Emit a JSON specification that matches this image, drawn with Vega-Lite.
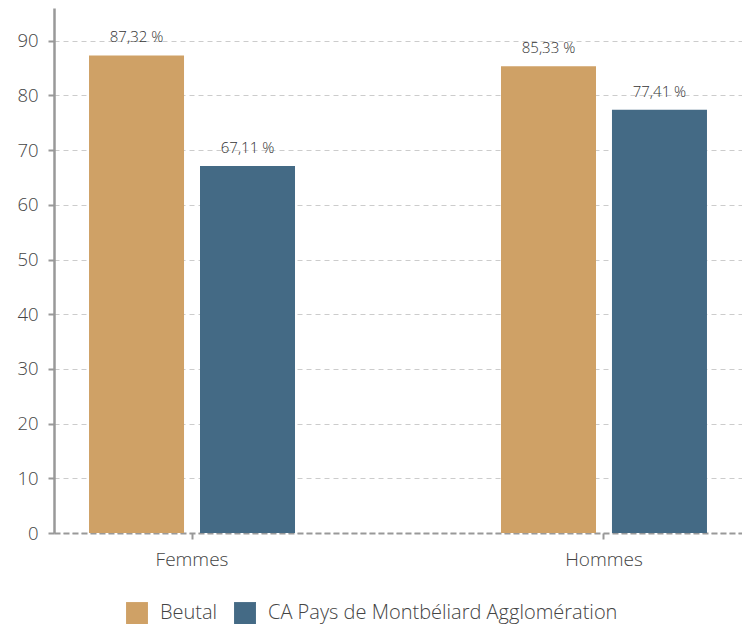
{
  "$schema": "https://vega.github.io/schema/vega-lite/v6.json",
  "width": 688,
  "height": 525,
  "autosize": {"type": "none"},
  "padding": {"left": 54, "top": 8, "right": 0, "bottom": 96},
  "background": "white",
  "data": {
    "values": [
      {"sexe": "Femmes", "territoire": "Beutal", "valeur": 87.32, "label": "87,32 %"},
      {"sexe": "Femmes", "territoire": "CA Pays de Montbéliard Agglomération", "valeur": 67.11, "label": "67,11 %"},
      {"sexe": "Hommes", "territoire": "Beutal", "valeur": 85.33, "label": "85,33 %"},
      {"sexe": "Hommes", "territoire": "CA Pays de Montbéliard Agglomération", "valeur": 77.41, "label": "77,41 %"}
    ]
  },
  "encoding": {
    "x": {
      "field": "sexe",
      "type": "nominal",
      "scale": {"paddingInner": 0.5, "paddingOuter": 0.085},
      "axis": {
        "title": null,
        "labelAngle": 0,
        "labelFont": "Open Sans",
        "labelFontWeight": 300,
        "labelFontSize": 19,
        "labelColor": "#444444",
        "labelPadding": 11,
        "tickColor": "#999999",
        "tickSize": 6,
        "tickWidth": 2,
        "domainColor": "#999999",
        "domainWidth": 2,
        "domainDash": [6, 3],
        "grid": false
      }
    },
    "xOffset": {
      "field": "territoire",
      "type": "nominal",
      "scale": {"paddingInner": 0.144, "paddingOuter": 0}
    },
    "y": {
      "field": "valeur",
      "type": "quantitative",
      "scale": {"domain": [0, 96], "nice": false},
      "axis": {
        "title": null,
        "values": [0, 10, 20, 30, 40, 50, 60, 70, 80, 90],
        "labelFont": "Open Sans",
        "labelFontWeight": 300,
        "labelFontSize": 18.5,
        "labelColor": "#444444",
        "labelPadding": 10,
        "tickColor": "#999999",
        "tickSize": 6,
        "tickWidth": 2,
        "domainColor": "#999999",
        "domainWidth": 2.5,
        "gridColor": "#cccccc",
        "gridDash": [5, 4],
        "gridWidth": 1
      }
    }
  },
  "layer": [
    {
      "mark": {"type": "bar"},
      "encoding": {
        "color": {
          "field": "territoire",
          "type": "nominal",
          "scale": {
            "domain": ["Beutal", "CA Pays de Montbéliard Agglomération"],
            "range": ["#CFA166", "#446A85"]
          },
          "legend": {
            "title": null,
            "orient": "none",
            "direction": "horizontal",
            "legendX": 72,
            "legendY": 594,
            "symbolType": "square",
            "symbolSize": 480,
            "symbolStrokeWidth": 0,
            "labelFont": "Open Sans",
            "labelFontWeight": 300,
            "labelFontSize": 20,
            "labelColor": "#444444",
            "labelLimit": 0,
            "labelOffset": 12,
            "columnPadding": 16
          }
        }
      }
    },
    {
      "mark": {"type": "text", "dy": -13, "baseline": "alphabetic", "font": "Open Sans", "fontWeight": 300, "fontSize": 15, "color": "#333333"},
      "encoding": {
        "text": {"field": "label"}
      }
    }
  ],
  "config": {
    "view": {"stroke": null}
  }
}
